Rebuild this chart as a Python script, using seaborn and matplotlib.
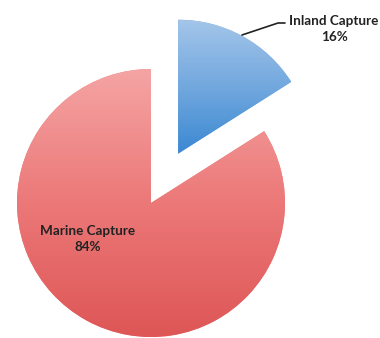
import numpy as np
import matplotlib
matplotlib.use("Agg")
import matplotlib.pyplot as plt
import seaborn as sns
from matplotlib.colors import LinearSegmentedColormap

sns.set_theme(style="white")
plt.rcParams['font.family'] = ['Lato', 'DejaVu Sans']

categories = ["Inland Capture", "Marine Capture"]
values = [16, 84]
pct_labels = ["16%", "84%"]

fig = plt.figure(figsize=(3.8, 3.38), dpi=100)
ax = fig.add_axes([0, 0, 1, 1])
R = 134.0
cx, cy = 151.0, 203.0
ax.set_xlim(-cx / R, (380 - cx) / R)
ax.set_ylim(-(338 - cy) / R, cy / R)
ax.set_aspect("auto")
ax.axis("off")

wedges, _ = ax.pie(values, startangle=90, counterclock=False,
                   explode=[0.42, 0.0], colors=["#7fb0e0", "#ec7a7a"],
                   wedgeprops=dict(linewidth=0), radius=1.0)

# gradient fills
grads = [
    LinearSegmentedColormap.from_list("b", ["#3a88d2", "#72a8de", "#a3c5e9"]),
    LinearSegmentedColormap.from_list("r", ["#de5656", "#ec7878", "#f5a4a4"]),
]
for w, cmap in zip(wedges, grads):
    grad = np.linspace(0, 1, 256).reshape(-1, 1)
    bb = w.get_path().get_extents(w.get_transform() - ax.transData)
    im = ax.imshow(grad, cmap=cmap, origin="lower", aspect="auto",
                   extent=[bb.x0, bb.x1, bb.y0, bb.y1], zorder=2)
    im.set_clip_path(w)
ax.set_xlim(-cx / R, (380 - cx) / R)
ax.set_ylim(-(338 - cy) / R, cy / R)

def px(x, y):
    return ((x - cx) / R, (cy - y) / R)

ax.plot(*zip(px(242, 35), px(278, 23), px(285, 23)), color="#222222", lw=1.2, zorder=3)
ax.text(*px(334, 29), f"{categories[0]}\n{pct_labels[0]}", ha="center", va="center",
        fontsize=9.7, fontweight="bold", color="#222222", linespacing=1.35, zorder=4)
ax.text(*px(88, 239), f"{categories[1]}\n{pct_labels[1]}", ha="center", va="center",
        fontsize=9.7, fontweight="bold", color="#222222", linespacing=1.35, zorder=4)

fig.savefig("out.png", dpi=100, facecolor="white")
